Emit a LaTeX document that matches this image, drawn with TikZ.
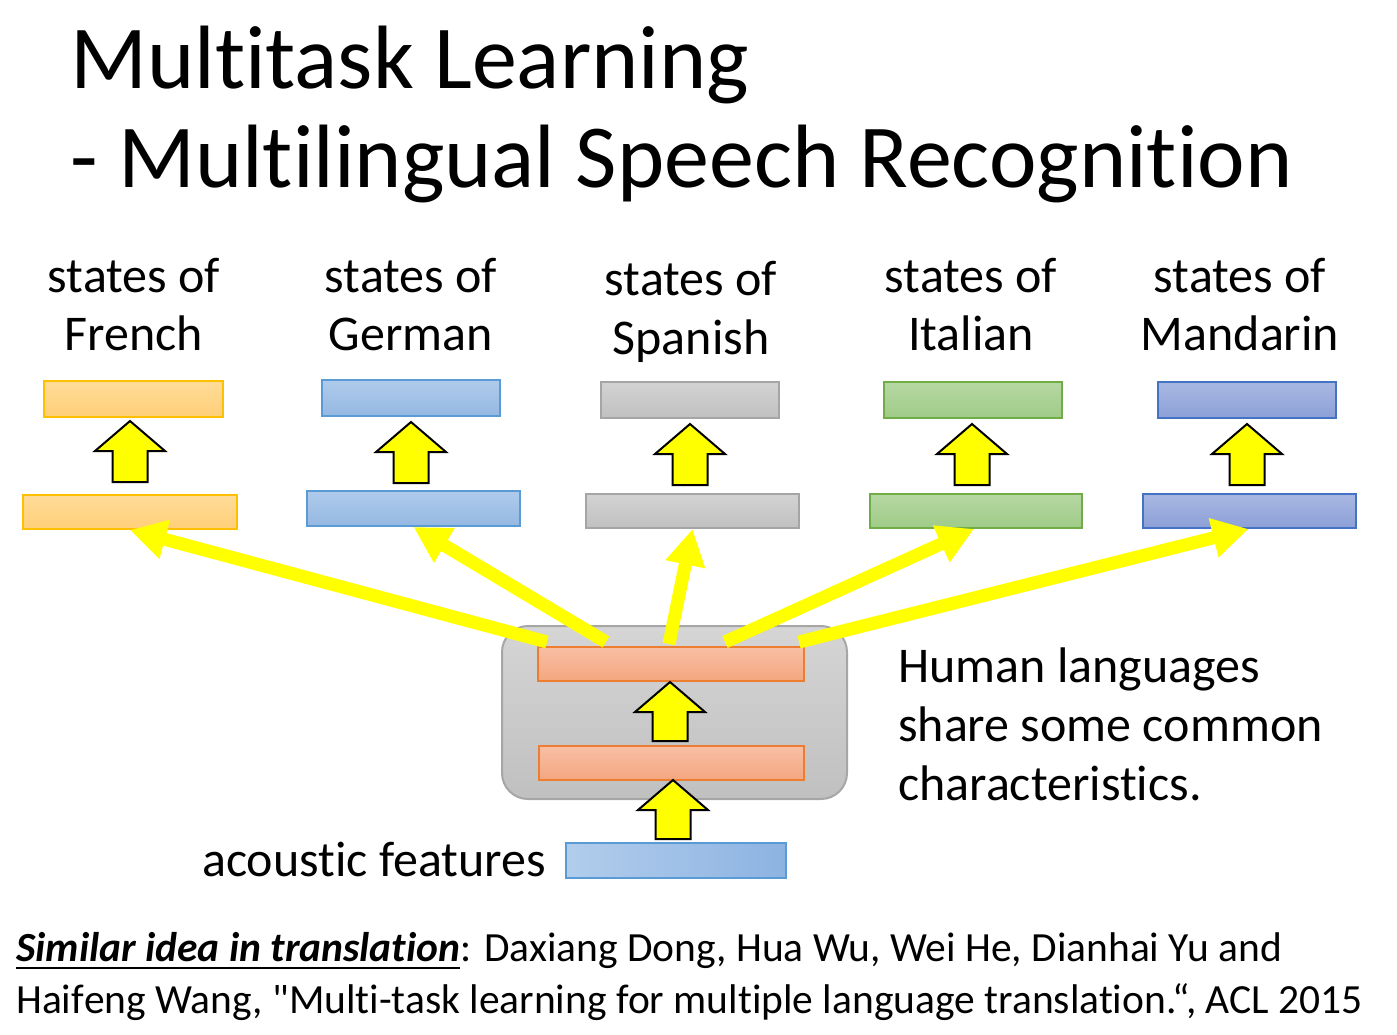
\documentclass[tikz,border=0pt]{standalone}
\usepackage{fontspec}
\setmainfont{Carlito}[Ligatures={TeXOff,NoCommon}]
\usetikzlibrary{arrows.meta}
\newcommand{\nti}{t\kern0pt i}
\definecolor{frB}{HTML}{FFC000}\definecolor{frT}{HTML}{FFDC98}\definecolor{frD}{HTML}{FFCF78}
\definecolor{deB}{HTML}{5B9BD5}\definecolor{deT}{HTML}{AECBEB}\definecolor{deD}{HTML}{95B8E2}
\definecolor{esB}{HTML}{A5A5A5}\definecolor{esT}{HTML}{D3D3D3}\definecolor{esD}{HTML}{C0C0C0}
\definecolor{itB}{HTML}{70AD47}\definecolor{itT}{HTML}{B6D8A3}\definecolor{itD}{HTML}{9FCB87}
\definecolor{zhB}{HTML}{4472C4}\definecolor{zhT}{HTML}{A8B8E2}\definecolor{zhD}{HTML}{8CA0D7}
\definecolor{shB}{HTML}{ED7D31}\definecolor{shT}{HTML}{F8BFA4}\definecolor{shD}{HTML}{F4A67F}
\definecolor{gbB}{HTML}{A6A6A6}\definecolor{gbT}{HTML}{D5D5D5}\definecolor{gbD}{HTML}{C0C0C0}
\definecolor{ftL}{HTML}{B2CDEC}\definecolor{ftR}{HTML}{8DB3E2}
\definecolor{yel}{HTML}{FFFF00}
\begin{document}
\begin{tikzpicture}[x=1pt,y=-1pt,
  layer/.style={draw, line width=2pt, inner sep=0pt, minimum height=#1},
  layer/.default=35pt,
  lab/.style={inner sep=0pt, anchor=base, font=\fontsize{50}{60}\selectfont},
  hum/.style={inner sep=0pt, anchor=base west, font=\fontsize{50}{60}\selectfont},
  cit/.style={inner sep=0pt, anchor=base west, font=\fontsize{41.5}{48}\selectfont},
  ttl/.style={inner sep=0pt, anchor=base west, font=\fontsize{90}{99}\selectfont},
  conn/.style={yel, line width=13pt, -{Triangle[length=36pt,width=38pt]}},
  blockup/.pic={\draw[fill=yel, draw=black, line width=2pt, line join=miter]
    (0,0) -- (35,30) -- (17.5,30) -- (17.5,#1) -- (-17.5,#1) -- (-17.5,30) -- (-35,30) -- cycle;}
]
\useasboundingbox (0,0) rectangle (1397,1034);

% title
\node[ttl] (t1) at (70,88) {Mul\nti task Learning};
\node[ttl] (t2) at (70,187) {- Mul\nti lingual Speech Recogni\nti on};

% labels
\node[lab] (lfr1) at (134,292) {states of};
\node[lab] (lfr2) at (134,350) {French};
\node[lab] (lde1) at (411,292) {states of};
\node[lab] (lde2) at (411,350) {German};
\node[lab] (les1) at (691,295) {states of};
\node[lab] (les2) at (691,354) {Spanish};
\node[lab] (lit1) at (971,292) {states of};
\node[lab] (lit2) at (971,350) {Italian};
\node[lab] (lzh1) at (1240,292) {states of};
\node[lab] (lzh2) at (1240,350) {Mandarin};

% language-specific layers
\node[layer=36pt, minimum width=179pt, draw=frB, top color=frT, bottom color=frD] (fr2) at (133.5,399) {};
\node[layer=34pt, minimum width=214pt, draw=frB, top color=frT, bottom color=frD] (fr1) at (130,512) {};
\node[layer=36pt, minimum width=178pt, draw=deB, top color=deT, bottom color=deD] (de2) at (411,398) {};
\node[layer=35pt, minimum width=213pt, draw=deB, top color=deT, bottom color=deD] (de1) at (413.5,508.5) {};
\node[layer=36pt, minimum width=178pt, draw=esB, top color=esT, bottom color=esD] (es2) at (690,400) {};
\node[layer=34pt, minimum width=213pt, draw=esB, top color=esT, bottom color=esD] (es1) at (692.5,511) {};
\node[layer=36pt, minimum width=178pt, draw=itB, top color=itT, bottom color=itD] (it2) at (973,400) {};
\node[layer=34pt, minimum width=212pt, draw=itB, top color=itT, bottom color=itD] (it1) at (976,511) {};
\node[layer=36pt, minimum width=178pt, draw=zhB, top color=zhT, bottom color=zhD] (zh2) at (1247,400) {};
\node[layer=34pt, minimum width=213pt, draw=zhB, top color=zhT, bottom color=zhD] (zh1) at (1249.5,511) {};

% block arrows between language layers
\pic at (130,421) {blockup=61};
\pic at (411,422) {blockup=61};
\pic at (690,424) {blockup=61};
\pic at (972,424) {blockup=61};
\pic at (1247,424) {blockup=61};

% shared part
\node[draw=gbB, line width=2pt, rounded corners=26pt, top color=gbT, bottom color=gbD,
      minimum width=345pt, minimum height=173pt, inner sep=0pt] (shared) at (674.5,712.5) {};
\node[layer=34pt, minimum width=266pt, draw=shB, top color=shT, bottom color=shD] (sh2) at (671,664) {};
\node[layer=34pt, minimum width=265pt, draw=shB, top color=shT, bottom color=shD] (sh1) at (671.5,763) {};
\pic at (670,682) {blockup=59};
\pic at (673,780) {blockup=59};

% acoustic features
\node[draw=deB, line width=2pt, inner sep=0pt, minimum width=220pt, minimum height=35pt,
      left color=ftL, right color=ftR] (feat) at (676,860.5) {};
\node[inner sep=0pt, anchor=base east, font=\fontsize{50}{60}\selectfont] (lfeat) at (546,876) {acoustic features};

% yellow connectors
\coordinate (s1) at ([xshift=10pt,yshift=4pt]sh2.north west);
\coordinate (s2) at ([xshift=69pt,yshift=4pt]sh2.north west);
\coordinate (s3) at ([xshift=132pt,yshift=2pt]sh2.north west);
\coordinate (s4) at ([xshift=188pt,yshift=4pt]sh2.north west);
\coordinate (s5) at ([xshift=262pt,yshift=4pt]sh2.north west);
\draw[conn] (s1) -- (fr1.south);
\draw[conn] (s2) -- (de1.south);
\draw[conn] (s3) -- (es1.south);
\draw[conn] (s4) -- ([xshift=-2pt]it1.south);
\draw[conn] (s5) -- ([xshift=-1pt]zh1.south);

% side text
\node[hum] (h1) at (898,682) {Human languages};
\node[hum] (h2) at (898,741) {share some common};
\node[hum] (h3) at (898,800) {characteris\nti cs.};

% citation
\node[cit] (c1a) at (16,961) {\textbf{\textit{Similar idea in transla\nti on}}};
\node[cit] (c1b) at (c1a.base east) {: Daxiang Dong, Hua Wu, Wei He, Dianhai Yu and};
\draw[line width=2.5pt] ([yshift=-7pt]c1a.base west) -- ([yshift=-7pt]c1a.base east);
\node[cit] (c2) at (16,1013) {Haif\kern0pt eng Wang, "Mul\nti -task learning for mul\nti ple language transla\nti on.“, ACL 2015};
\end{tikzpicture}
\end{document}
